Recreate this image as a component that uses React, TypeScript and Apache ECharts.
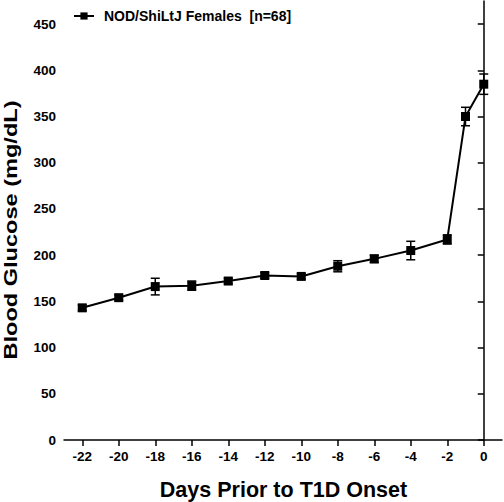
import React, { useEffect, useRef } from "react";
import * as echarts from "echarts";

const days = [-22, -20, -18, -16, -14, -12, -10, -8, -6, -4, -2, -1, 0];
const glucose = [143, 154, 166, 167, 172, 178, 177, 188, 196, 205, 217, 350, 385];
const sem = [3, 3, 9, 5, 3, 3, 3, 6, 4, 10, 5, 10, 11];
const yTicks = [0, 50, 100, 150, 200, 250, 300, 350, 400, 450];
const xTicks = [-22, -20, -18, -16, -14, -12, -10, -8, -6, -4, -2, 0];
const seriesName = "NOD/ShiLtJ Females  [n=68]";
const xTitle = "Days Prior to T1D Onset";
const yTitle = "Blood Glucose (mg/dL)";

export default function App() {
  const ref = useRef<HTMLDivElement>(null);
  useEffect(() => {
    if (!ref.current) return;
    const chart = echarts.init(ref.current, null, { renderer: "svg" });
    const font = "'Liberation Sans', Arial, sans-serif";
    const errData = days.map((d, i) => [d, glucose[i] - sem[i], glucose[i] + sem[i]]);
    chart.setOption({
      animation: false,
      backgroundColor: "#fff",
      grid: { left: 64, right: 2, top: 1, bottom: 62, outerBoundsMode: "none", containLabel: false },
      legend: {
        data: [seriesName],
        left: 68,
        top: 4,
        itemWidth: 20,
        itemHeight: 9,
        textStyle: {
          fontFamily: font,
          fontWeight: "bold",
          fontSize: 14,
          color: "#000",
          padding: [0, 0, 0, 5],
        },
      },
      graphic: [
        {
          type: "text",
          x: 283.5,
          y: 490,
          style: {
            text: xTitle,
            font: `bold 21.5px ${font}`,
            fill: "#000",
            align: "center",
            verticalAlign: "middle",
          },
        },
        {
          type: "text",
          x: 10.5,
          y: 230,
          rotation: Math.PI / 2,
          scaleX: 1.24,
          style: {
            text: yTitle,
            font: `bold 19px ${font}`,
            fill: "#000",
            align: "center",
            verticalAlign: "middle",
          },
        },
      ],
      xAxis: {
        type: "value",
        min: -23,
        max: 1,
        axisLine: { show: true, lineStyle: { color: "#000", width: 1.5 } },
        axisTick: { show: true, customValues: xTicks, length: 6, lineStyle: { color: "#000", width: 1.5 } },
        axisLabel: {
          customValues: xTicks,
          fontFamily: font,
          fontWeight: "bold",
          fontSize: 13.5,
          color: "#000",
          margin: 9,
        },
        splitLine: { show: false },
      },
      yAxis: {
        type: "value",
        min: 0,
        max: 475,
        axisLine: { show: true, lineStyle: { color: "#000", width: 1.5 } },
        axisTick: { show: true, customValues: yTicks, length: 6, lineStyle: { color: "#000", width: 1.5 } },
        axisLabel: {
          customValues: yTicks,
          fontFamily: font,
          fontWeight: "bold",
          fontSize: 13.5,
          color: "#000",
          margin: 8,
        },
        splitLine: { show: false },
      },
      series: [
        {
          type: "custom",
          silent: true,
          data: errData,
          z: 1,
          renderItem: (params: any, api: any) => {
            const x = api.value(0);
            const lo = api.coord([x, api.value(1)]);
            const hi = api.coord([x, api.value(2)]);
            const cap = 4.5;
            const st = { stroke: "#000", lineWidth: 1.5, fill: "none" };
            return {
              type: "group",
              children: [
                { type: "line", shape: { x1: lo[0], y1: lo[1], x2: hi[0], y2: hi[1] }, style: st },
                { type: "line", shape: { x1: lo[0] - cap, y1: lo[1], x2: lo[0] + cap, y2: lo[1] }, style: st },
                { type: "line", shape: { x1: hi[0] - cap, y1: hi[1], x2: hi[0] + cap, y2: hi[1] }, style: st },
              ],
            };
          },
        },
        {
          name: seriesName,
          type: "line",
          data: days.map((d, i) => [d, glucose[i]]),
          symbol: "rect",
          symbolSize: 9,
          z: 3,
          lineStyle: { color: "#000", width: 2 },
          itemStyle: { color: "#000" },
        },
      ],
    });
    return () => chart.dispose();
  }, []);
  return <div ref={ref} style={{ position: "fixed", left: 0, top: 0, width: 504, height: 502 }} />;
}
